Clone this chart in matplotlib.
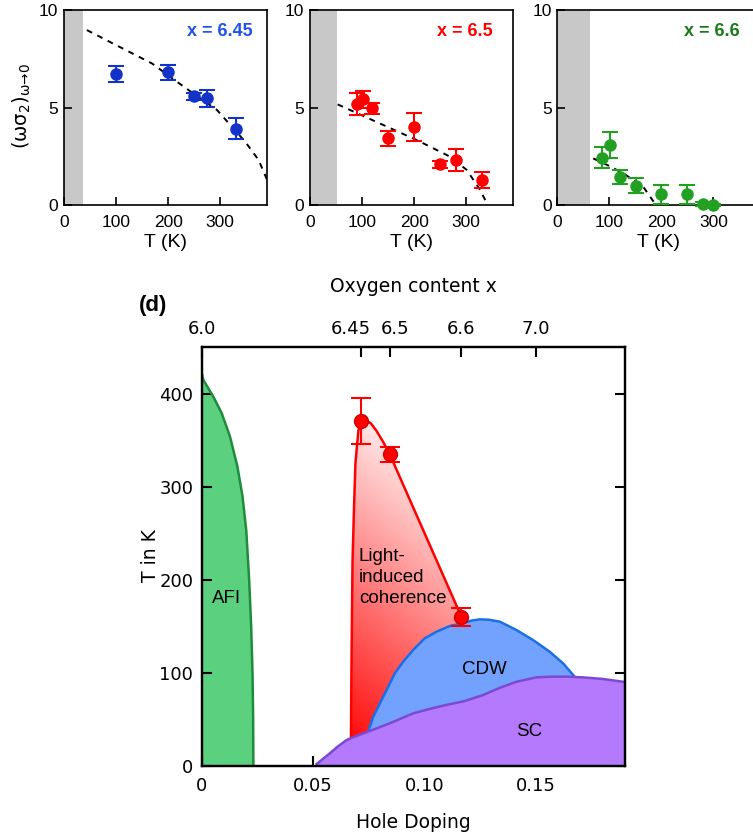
import numpy as np
import matplotlib
matplotlib.use('Agg')
import matplotlib.pyplot as plt
import matplotlib.transforms as mtransforms
from matplotlib.patches import Polygon

# ---- top panels: (omega sigma_2) vs T for three oxygen contents ----
T1 = [100, 200, 250, 275, 330]
v1 = [6.72, 6.8, 5.57, 5.47, 3.92]
e1 = [0.42, 0.4, 0.18, 0.45, 0.55]
fit1_T = [44, 100, 169, 217, 260, 294, 320, 348, 374, 390]
fit1_v = [8.97, 8.2, 7.26, 6.32, 5.5, 4.87, 4.09, 3.25, 2.3, 1.3]

T2 = [91, 101, 120, 150, 200, 250, 280, 330]
v2 = [5.16, 5.42, 4.96, 3.42, 4.02, 2.08, 2.31, 1.28]
e2 = [0.57, 0.45, 0.27, 0.4, 0.72, 0.2, 0.56, 0.43]
fit2_T = [53, 141, 205, 269, 301, 327, 340]
fit2_v = [5.16, 4.1, 3.33, 2.48, 1.8, 0.77, 0.07]

T3 = [86, 101, 121, 151, 200, 250, 280, 300]
v3 = [2.43, 3.08, 1.45, 1.0, 0.55, 0.55, 0.05, 0.0]
e3 = [0.53, 0.68, 0.35, 0.37, 0.5, 0.5, 0.08, 0.05]
fit3_T = [69, 100, 127, 165, 185]
fit3_v = [2.39, 2.0, 1.62, 0.94, 0.17]

gray_T = [36, 52, 63]
labels_top = ['x = 6.45', 'x = 6.5', 'x = 6.6']

# ---- bottom panel: phase diagram ----
afi_x = [0, 0.0007, 0.0052, 0.0090, 0.0127, 0.0160, 0.0183, 0.0200, 0.0213, 0.0222, 0.0228, 0.0231, 0.0232]
afi_T = [423, 415, 397, 379, 354, 322, 290, 253, 200, 150, 100, 50, 0]

lic_x = [0.0668, 0.0670, 0.0672, 0.0677, 0.0684, 0.0690, 0.0703, 0.0714, 0.0728, 0.0760, 0.0785, 0.0815, 0.0844, 0.1166]
lic_T = [0, 25, 100, 220, 280, 325, 360, 370, 373, 368, 360, 348, 335, 160]

cdw_x = [0.0747, 0.0770, 0.0800, 0.0830, 0.0867, 0.0904, 0.0949, 0.1001, 0.1054, 0.1113, 0.1166,
         0.1210, 0.1248, 0.1290, 0.1338, 0.1413, 0.1487, 0.1562, 0.1622, 0.1674]
cdw_T = [36.6, 52.7, 67.1, 81.4, 99.4, 111.8, 124.4, 137, 144.1, 150.2, 153.1,
         156, 157.4, 157, 154.9, 145.9, 135.2, 122.6, 110.1, 95.7]

sc_x = [0.0516, 0.0545, 0.0575, 0.0610, 0.0650, 0.0700, 0.0747, 0.0844, 0.0949, 0.1030, 0.1100,
        0.1180, 0.1263, 0.1340, 0.1413, 0.1502, 0.1562, 0.1640, 0.1711, 0.1800, 0.1890, 0.1900]
sc_T = [1.8, 7.5, 13.3, 20.5, 27.6, 32.5, 36.6, 45.6, 56.3, 61.5, 65.5,
        69.5, 76, 84, 90.3, 95, 95.7, 95.8, 95, 93.3, 90.3, 90]

pts_x = [0.0714, 0.0844, 0.1166]
pts_T = [371, 335, 160]
pts_e = [25, 8, 10]

oxy_pos = [0, 0.0714, 0.0844, 0.1166, 0.150]
oxy_lab = ['6.0', '6.45', '6.5', '6.6', '7.0']

fig = plt.figure(figsize=(7.53, 8.40), dpi=100)
W, H = 753.0, 840.0

# top panels
lefts = [64, 310, 557.3]
data = [(T1, v1, e1, fit1_T, fit1_v), (T2, v2, e2, fit2_T, fit2_v), (T3, v3, e3, fit3_T, fit3_v)]
pcol = ['#1232c8', '#ff0000', '#22a022']
lcol = ['#1f52ee', '#ff0000', '#157a15']
lab_x = [0.93, 0.90, 0.90]
for i in range(3):
    ax = fig.add_axes([lefts[i] / W, 1 - 205 / H, 203 / W, 195 / H])
    T, v, e, fT, fv = data[i]
    ax.axvspan(0, gray_T[i], color='#c8c8c8', lw=0, zorder=0)
    ax.plot(fT, fv, color='k', ls=(0, (3, 3)), lw=1.4, zorder=2)
    ax.errorbar(T, v, yerr=e, fmt='o', color=pcol[i], ms=8, capsize=5.5,
                capthick=1.5, elinewidth=1.5, clip_on=False, zorder=3)
    ax.set_xlim(0, 390)
    ax.set_ylim(0, 10)
    ax.set_xticks([0, 100, 200, 300])
    ax.set_yticks([0, 5, 10])
    ax.tick_params(direction='in', length=6, width=1.2, labelsize=12.5, pad=7)
    for lb in ax.get_xticklabels() + ax.get_yticklabels():
        lb.set_fontfamily('Liberation Sans')
    ax.tick_params(axis='y', pad=4)
    for s in ax.spines.values():
        s.set_linewidth(1.2)
    ax.set_xlabel('T (K)', fontsize=14, family='Liberation Sans', labelpad=3)
    ax.text(lab_x[i], 0.889, labels_top[i], transform=ax.transAxes, ha='right', va='center',
            color=lcol[i], fontsize=13, fontweight='bold', family='Liberation Sans')

fig.text(22 / W, 1 - 106 / H, r'$\mathregular{(ωσ_2)_{ω→0}}$', rotation=90,
         ha='center', va='center', fontsize=14)

# bottom phase diagram
ax = fig.add_axes([201.7 / W, 1 - 765.7 / H, (625 - 201.7) / W, (765.7 - 347.3) / H])
ax.set_xlim(0, 0.19)
ax.set_ylim(0, 450)

# AFI
ax.add_patch(Polygon(list(zip(afi_x, afi_T)) + [(0, 0)], closed=True,
                     facecolor='#5bd17f', edgecolor='none', zorder=1))
ax.plot(afi_x, afi_T, color='#1e8c3a', lw=1.8, zorder=2)

# light induced coherence (gradient fill)
lic_poly = Polygon(list(zip(lic_x, lic_T)) + [(0.1166, 0)], closed=True,
                   facecolor='none', edgecolor='none', transform=ax.transData)
ax.add_patch(lic_poly)
gx = np.linspace(0.06, 0.125, 200)
gy = np.linspace(0, 380, 300)
GX, GY = np.meshgrid(gx, gy)
t = np.clip((GY - 10) / 400 + (GX - 0.066) * 5, 0, 1) * 0.96
img = np.dstack([np.ones_like(t), t, t])
im = ax.imshow(img, extent=[0.06, 0.125, 0, 380], origin='lower', aspect='auto', zorder=1.5)
im.set_clip_path(lic_poly)
ax.plot(lic_x[1:], lic_T[1:], color='#ff0000', lw=1.8, zorder=2.5)

# CDW
ax.add_patch(Polygon(list(zip(cdw_x, cdw_T)) + [(cdw_x[-1], 0), (cdw_x[0], 0)], closed=True,
                     facecolor='#72a2fe', edgecolor='none', zorder=3))
ax.plot(cdw_x, cdw_T, color='#1a6fe6', lw=1.8, zorder=3.5)

# SC
ax.add_patch(Polygon(list(zip(sc_x, sc_T)) + [(0.19, 0), (sc_x[0], 0)], closed=True,
                     facecolor='#b479fc', edgecolor='none', zorder=4))
ax.plot(sc_x, sc_T, color='#7a4ad4', lw=1.8, zorder=4.5)

ax.set_xlim(0, 0.19)
ax.set_ylim(0, 450)

ax.errorbar(pts_x, pts_T, yerr=pts_e, fmt='o', color='#ff0000', mec='#d00000', ms=10,
            capsize=7.5, capthick=1.5, elinewidth=1.5, zorder=6)

ax.text(0.0112, 180, 'AFI', ha='center', va='center', fontsize=13.5, family='Liberation Sans', zorder=7)
ax.text(0.0705, 202, 'Light-\ninduced\ncoherence', ha='left', va='center', fontsize=13.5,
        family='Liberation Sans', linespacing=1.3, zorder=7)
ax.text(0.127, 103, 'CDW', ha='center', va='center', fontsize=13.5, family='Liberation Sans', zorder=7)
ax.text(0.1468, 36.6, 'SC', ha='center', va='center', fontsize=13.5, family='Liberation Sans', zorder=7)

ax.set_xticks([0, 0.05, 0.10, 0.15])
ax.set_xticklabels(['0', '0.05', '0.10', '0.15'])
ax.set_yticks([0, 100, 200, 300, 400])
ax.tick_params(direction='in', length=7, width=1.5, labelsize=13, right=True, pad=8)
ax.tick_params(axis='y', pad=6)
for s in ax.spines.values():
    s.set_linewidth(1.6)
    s.set_zorder(8)
ax.set_xlabel('Hole Doping', fontsize=13.5, labelpad=13)

ax2 = ax.twiny()
ax2.set_xlim(0, 0.19)
ax2.set_xticks(oxy_pos)
ax2.set_xticklabels(oxy_lab)
ax2.tick_params(direction='in', length=7, width=1.5, labelsize=13, pad=7)
ax2.set_xlabel('Oxygen content x', fontsize=13.5, labelpad=20)
for s in ax2.spines.values():
    s.set_linewidth(1.6)
# nudge the crowded 6.45 / 6.5 labels apart
shift = {'6.45': -0.10, '6.5': 0.05}
for lb in ax2.get_xticklabels():
    if lb.get_text() in shift:
        lb.set_transform(lb.get_transform() +
                         mtransforms.ScaledTranslation(shift[lb.get_text()], 0, fig.dpi_scale_trans))

fig.text(150 / W, 1 - 556 / H, 'T in K', rotation=90, ha='center', va='center', fontsize=13.5)
fig.text(153 / W, 1 - 306 / H, '(d)', ha='center', va='center', fontsize=16,
         fontweight='bold', family='Liberation Sans')

fig.savefig('out.png', dpi=100)
